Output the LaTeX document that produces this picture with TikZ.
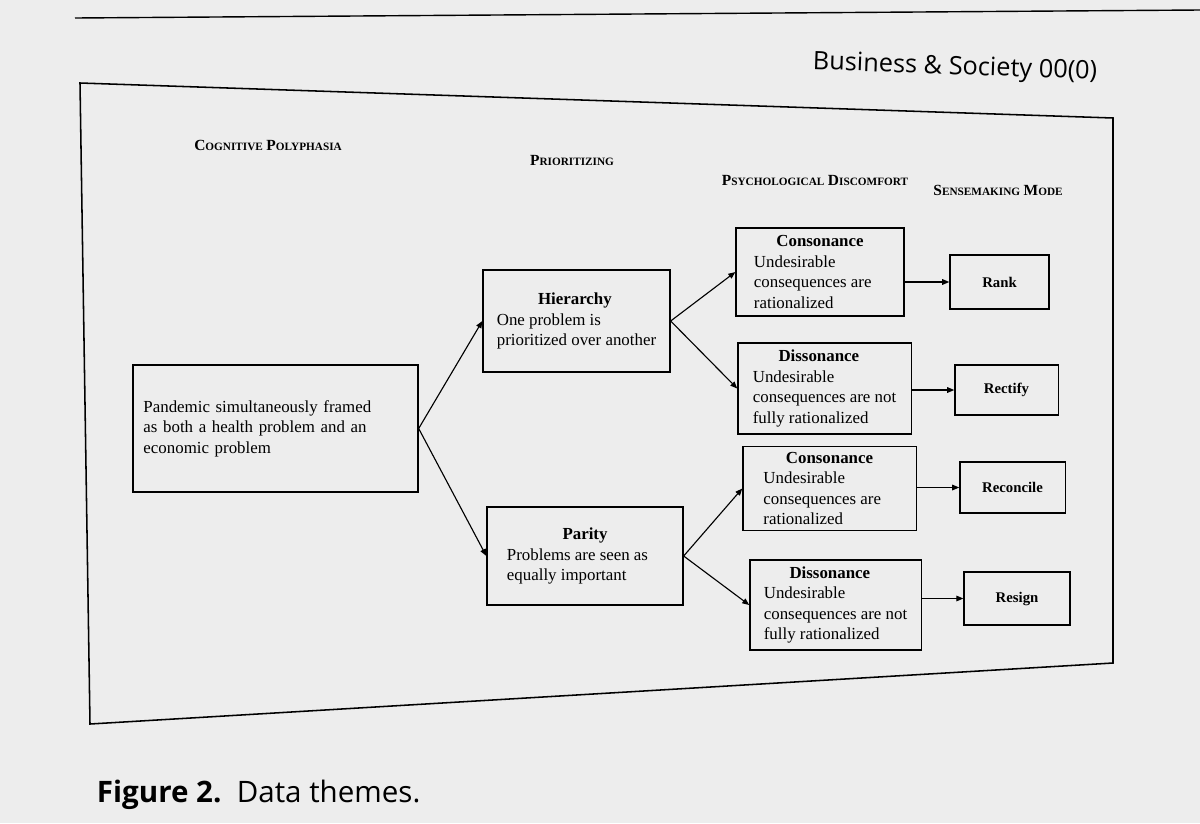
\documentclass[tikz,border=0pt]{standalone}
\usepackage{fontspec}
\setmainfont{Liberation Serif}
\newfontfamily\sansf{Open Sans}
\usetikzlibrary{arrows.meta}
\newcommand{\mysc}[2]{{\fontsize{11}{12}\selectfont #1}{\fontsize{8}{10}\selectfont #2}}
\begin{document}
\begin{tikzpicture}[x=0.025cm,y=-0.025cm,
  box/.style={draw,line width=0.9pt,rectangle,inner sep=5pt,font=\fontsize{12}{14.5}\selectfont,align=left},
  mode/.style={draw,line width=0.9pt,rectangle,font=\bfseries\fontsize{10.5}{12}\selectfont,align=center},
  hdr/.style={font=\bfseries},
  arr/.style={-{Triangle[length=5pt,width=4pt]},line width=0.8pt}]
\fill[gray!14] (0,0) rectangle (1200,823);
\useasboundingbox (0,0) rectangle (1200,823);
\draw[line width=1pt] (75,18) -- (1200,10);
\node[font=\sansf\fontsize{18}{20}\selectfont,rotate=-2] (journal) at (955,68) {Business \& Society 00(0)};
\draw[line width=1.1pt] (80,83) -- (1113,118) -- (1113,663) -- (90,724) -- cycle;
\node[hdr] (h1) at (268,145) {\mysc{C}{OGNITIVE} \mysc{P}{OLYPHASIA}};
\node[hdr] (h2) at (572,160) {\mysc{P}{RIORITIZING}};
\node[hdr] (h3) at (815,180) {\mysc{P}{SYCHOLOGICAL} \mysc{D}{ISCOMFORT}};
\node[hdr] (h4) at (998,190) {\mysc{S}{ENSEMAKING} \mysc{M}{ODE}};

\node[box,minimum width=7.125cm,minimum height=3.175cm,text width=6.6cm] (main) at (275.5,428.5)
 {Pandemic simultaneously framed\\as both a health problem and an\\economic problem};
\node[box,minimum width=4.675cm,minimum height=2.55cm] (hier) at (576.5,321)
 {\makebox[3.9cm]{\textbf{Hierarchy}}\\One problem is\\prioritized over another};
\node[box,minimum width=4.9cm,minimum height=2.45cm] (par) at (585,556)
 {\makebox[3.9cm]{\textbf{Parity}}\\Problems are seen as\\equally important};
\node[box,inner sep=2pt,minimum width=4.2cm,minimum height=2.2cm] (c1) at (820,272)
 {\makebox[3.3cm]{\textbf{Consonance}}\\Undesirable\\consequences are\\rationalized};
\node[box,inner sep=2pt,minimum width=4.33cm,minimum height=2.28cm] (d1) at (824.5,388.5)
 {\makebox[3.3cm]{\textbf{Dissonance}}\\Undesirable\\consequences are not\\fully rationalized};
\node[box,inner sep=2pt,minimum width=4.33cm,minimum height=2.1cm] (c2) at (829.5,488.5)
 {\makebox[3.3cm]{\textbf{Consonance}}\\Undesirable\\consequences are\\rationalized};
\node[box,inner sep=2pt,minimum width=4.28cm,minimum height=2.25cm] (d2) at (835.5,605)
 {\makebox[3.3cm]{\textbf{Dissonance}}\\Undesirable\\consequences are not\\fully rationalized};
\node[mode,minimum width=2.48cm,minimum height=1.35cm] (rank) at (999.5,282) {Rank};
\node[mode,minimum width=2.58cm,minimum height=1.25cm] (rect) at (1006.5,390) {Rectify};
\node[mode,minimum width=2.63cm,minimum height=1.28cm] (rec) at (1012.5,487.5) {Reconcile};
\node[mode,minimum width=2.65cm,minimum height=1.33cm] (res) at (1017,598.5) {Resign};

\draw[arr] (main.east) -- (hier.west);
\draw[arr] (main.east) -- (par.west);
\draw[arr] (hier.east) -- (c1.west);
\draw[arr] (hier.east) -- (d1.west);
\draw[arr] (par.east) -- (c2.west);
\draw[arr] (par.east) -- (d2.west);
\draw[arr] (c1.east |- rank.west) -- (rank.west);
\draw[arr] (d1.east |- rect.west) -- (rect.west);
\draw[arr] (c2.east |- rec.west) -- (rec.west);
\draw[arr] (d2.east |- res.west) -- (res.west);

\node[anchor=west,font=\sansf\fontsize{21}{24}\selectfont] (cap) at (92,795) {\textbf{Figure 2.}\ \ Data themes.};
\end{tikzpicture}
\end{document}
